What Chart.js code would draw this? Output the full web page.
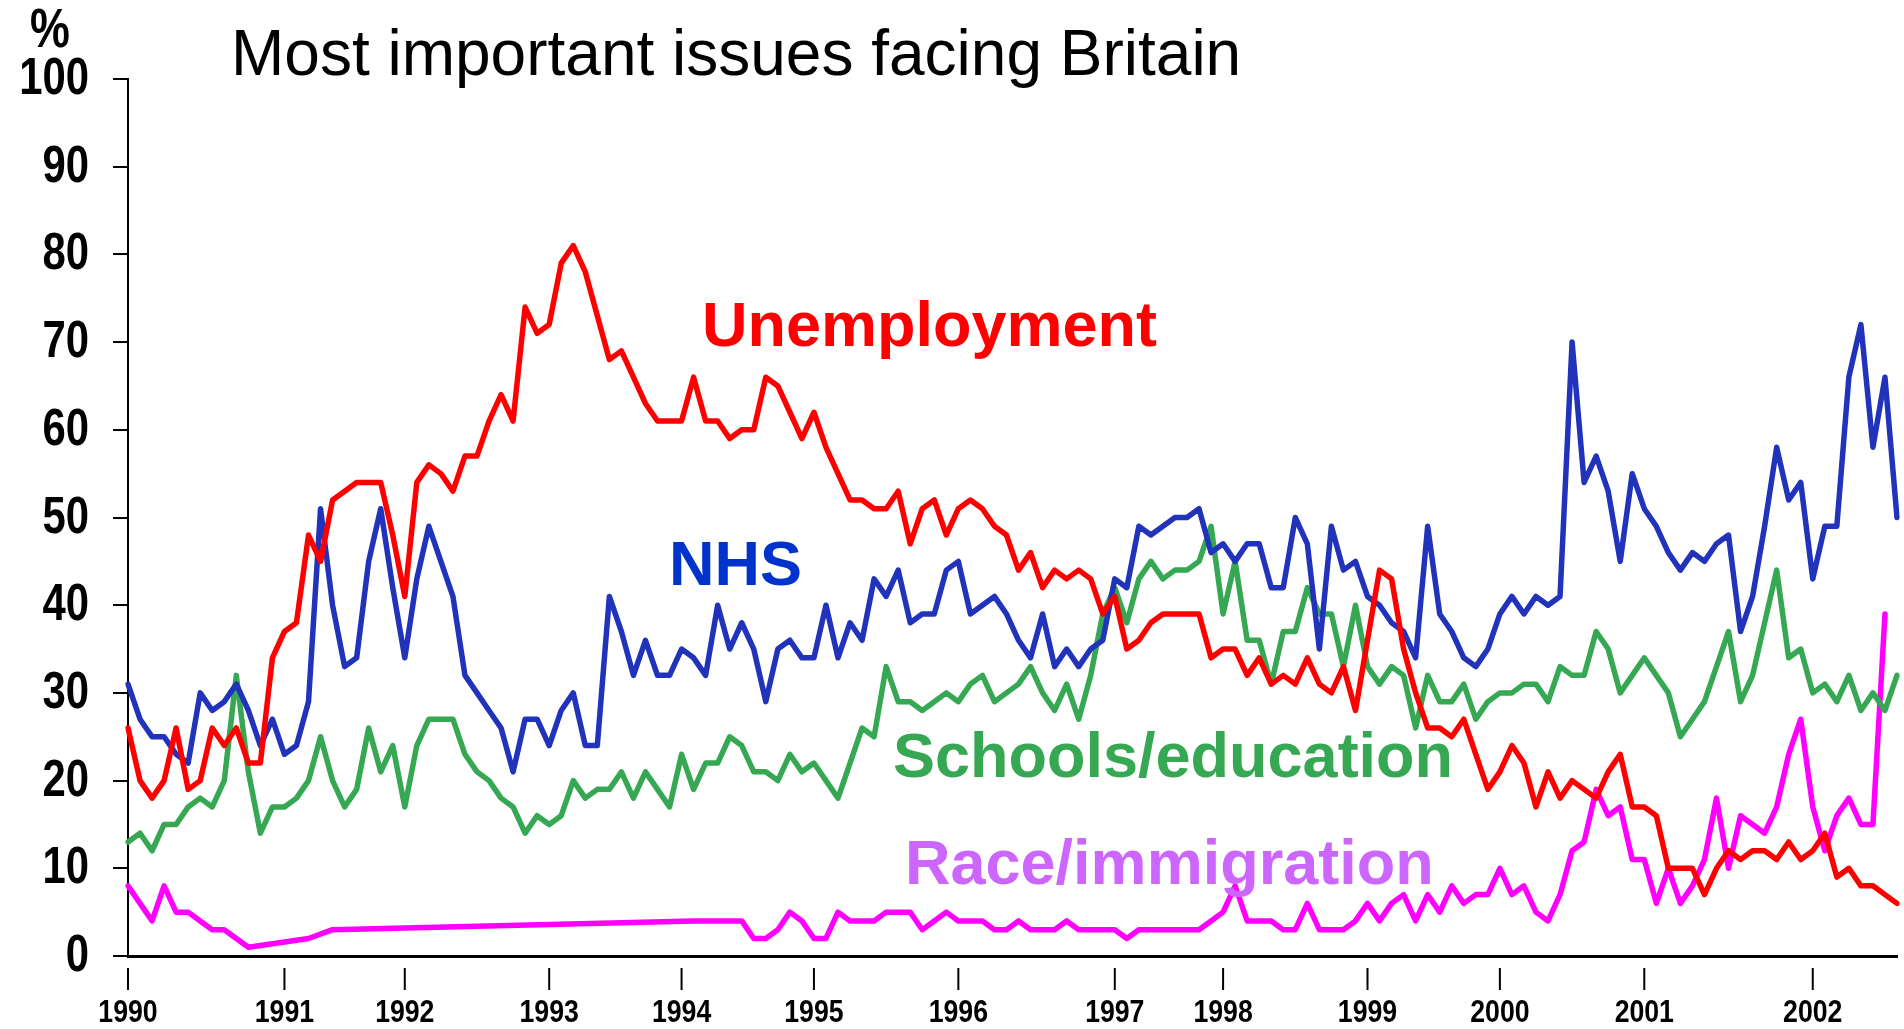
<!DOCTYPE html>
<html>
<head>
<meta charset="utf-8">
<title>Most important issues facing Britain</title>
<script src="https://cdn.jsdelivr.net/npm/chart.js@4.4.1/dist/chart.umd.min.js"></script>
<style>
  html, body { margin: 0; padding: 0; background: #fff; }
  #wrap { width: 1904px; height: 1029px; }
</style>
</head>
<body>
<div id="wrap"><canvas id="issuesChart" width="1904" height="1029"></canvas></div>
<script>
// Valores (% que cita cada tema), uma amostra por pesquisa
const unemployment = [
  26, 20, 18, 20, 26, 19, 20, 26, 24, 26, 22, 22, 34, 37, 38, 48, 45, 52, 53,
  54, 54, 54, 48, 41, 54, 56, 55, 53, 57, 57, 61, 64, 61, 74, 71, 72, 79,
  81, 78, 73, 68, 69, 66, 63, 61, 61, 61, 66, 61, 61, 59, 60, 60, 66, 65,
  62, 59, 62, 58, 55, 52, 52, 51, 51, 53, 47, 51, 52, 48, 51, 52, 51, 49, 48,
  44, 46, 42, 44, 43, 44, 43, 39, 41, 35, 36, 38, 39, 39, 39, 39, 34, 35,
  35, 32, 34, 31, 32, 31, 34, 31, 30, 33, 28, 36, 44, 43, 35, 30, 26, 26,
  25, 27, 23, 19, 21, 24, 22, 17, 21, 18, 20, 19, 18, 21, 23, 17, 17, 16,
  10, 10, 10, 7, 10, 12, 11, 12, 12, 11, 13, 11, 12, 14, 9, 10, 8, 8, 7, 6
];

const nhs = [
  31, 27, 25, 25, 23, 22, 30, 28, 29, 31, 28, 24, 27, 23, 24, 29, 51, 40, 33,
  34, 45, 51, 42, 34, 43, 49, 45, 41, 32, 30, 28, 26, 21, 27, 27, 24, 28,
  30, 24, 24, 41, 37, 32, 36, 32, 32, 35, 34, 32, 40, 35, 38, 35, 29, 35,
  36, 34, 34, 40, 34, 38, 36, 43, 41, 44, 38, 39, 39, 44, 45, 39, 40, 41, 39,
  36, 34, 39, 33, 35, 33, 35, 36, 43, 42, 49, 48, 49, 50, 50, 51, 46, 47,
  45, 47, 47, 42, 42, 50, 47, 35, 49, 44, 45, 41, 40, 38, 37, 34, 49, 39,
  37, 34, 33, 35, 39, 41, 39, 41, 40, 41, 70, 54, 57, 53, 45, 55, 51, 49,
  46, 44, 46, 45, 47, 48, 37, 41, 49, 58, 52, 54, 43, 49, 49, 66, 72, 58, 66, 50
];

const schools = [
  13, 14, 12, 15, 15, 17, 18, 17, 20, 32, 21, 14, 17, 17, 18, 20, 25, 20, 17,
  19, 26, 21, 24, 17, 24, 27, 27, 27, 23, 21, 20, 18, 17, 14, 16, 15, 16,
  20, 18, 19, 19, 21, 18, 21, 19, 17, 23, 19, 22, 22, 25, 24, 21, 21, 20,
  23, 21, 22, 20, 18, 22, 26, 25, 33, 29, 29, 28, 29, 30, 29, 31, 32, 29, 30,
  31, 33, 30, 28, 31, 27, 32, 39, 42, 38, 43, 45, 43, 44, 44, 45, 49, 39,
  45, 36, 36, 31, 37, 37, 42, 39, 39, 33, 40, 33, 31, 33, 32, 26, 32, 29,
  29, 31, 27, 29, 30, 30, 31, 31, 29, 33, 32, 32, 37, 35, 30, 32, 34, 32,
  30, 25, 27, 29, 33, 37, 29, 32, 38, 44, 34, 35, 30, 31, 29, 32, 28, 30, 28, 32
];

// null = pergunta não feita nessa pesquisa (a linha passa direto)
const race = [
  8, 6, 4, 8, 5, 5, 4, 3, 3, 2, 1, null, null, null, null, 2, null, 3, null,
  null, null, null, null, null, null, null, null, null, null, null, null, null, null, null, null, null,
  null, null, null, null, null, null, null, null, null, null, null, 4, 4, 4, 4, 4, 2, 2,
  3, 5, 4, 2, 2, 5, 4, 4, 4, 5, 5, 5, 3, 4, 5, 4, 4, 4, 3,
  3, 4, 3, 3, 3, 4, 3, 3, 3, 3, 2, 3, 3, 3, 3, 3, 3, 4,
  5, 8, 4, 4, 4, 3, 3, 6, 3, 3, 3, 4, 6, 4, 6, 7, 4, 7,
  5, 8, 6, 7, 7, 10, 7, 8, 5, 4, 7, 12, 13, 19, 16, 17, 11, 11,
  6, 10, 6, 8, 11, 18, 10, 16, 15, 14, 17, 23, 27, 17, 12, 16, 18, 15, 15, 39
];

// Rótulos dos anos e a amostra em que cada ano começa
const years = ['1990', '1991', '1992', '1993', '1994', '1995', '1996', '1997', '1998', '1999', '2000', '2001', '2002'];
const yearStart = [0, 13, 23, 35, 46, 57, 69, 82, 91, 103, 114, 126, 140];

const labels = unemployment.map(() => '');
yearStart.forEach((idx, k) => { labels[idx] = years[k]; });

const FONT = '"Liberation Sans", Arial, Helvetica, sans-serif';

// Texto comprimido na horizontal, como no original
function squeezed(ctx, text, x, y, sx) {
    ctx.save();
    ctx.translate(x, y);
    ctx.scale(sx, 1);
    ctx.fillText(text, 0, 0);
    ctx.restore();
}

const seriesNames = [
    { text: 'Unemployment', color: '#ff0000', x: 702, y: 346 },
    { text: 'NHS', color: '#0033cc', x: 669, y: 585 },
    { text: 'Schools/education', color: '#36a853', x: 893, y: 777 },
    { text: 'Race/immigration', color: '#cc66ff', x: 905, y: 884 }
];

const chartText = {
    id: 'chartText',
    afterDraw(chart) {
        const ctx = chart.ctx;
        const x = chart.scales.x;
        const y = chart.scales.y;
        ctx.save();
        ctx.fillStyle = '#000';

        // título
        ctx.font = `64px ${FONT}`;
        ctx.textAlign = 'left';
        ctx.textBaseline = 'alphabetic';
        ctx.fillText('Most important issues facing Britain', 231, 75);

        // eixo y
        ctx.font = `bold 51px ${FONT}`;
        ctx.textAlign = 'right';
        ctx.textBaseline = 'middle';
        y.ticks.forEach(t => {
            squeezed(ctx, String(t.value), 89, y.getPixelForValue(t.value) + 1, 0.82);
        });
        ctx.textAlign = 'center';
        ctx.font = `bold 56px ${FONT}`;
        squeezed(ctx, '%', 50, 32, 0.8);

        // anos no eixo x
        ctx.strokeStyle = '#000';
        ctx.lineWidth = 2;
        ctx.font = `bold 31px ${FONT}`;
        yearStart.forEach((idx, k) => {
            const px = x.getPixelForValue(idx);
            ctx.beginPath();
            ctx.moveTo(px, 968);
            ctx.lineTo(px, 990);
            ctx.stroke();
            squeezed(ctx, years[k], px, 1013, 0.86);
        });

        // nomes das séries
        ctx.font = `bold 63px ${FONT}`;
        ctx.textAlign = 'left';
        ctx.textBaseline = 'alphabetic';
        seriesNames.forEach(s => {
            ctx.fillStyle = s.color;
            ctx.fillText(s.text, s.x, s.y);
        });
        ctx.restore();
    }
};

function lineSet(label, data, color) {
    return {
        label,
        data,
        borderColor: color,
        backgroundColor: color,
        borderWidth: 5.5,
        pointRadius: 0,
        tension: 0,
        spanGaps: true,
        borderJoinStyle: 'round',
        borderCapStyle: 'round'
    };
}

new Chart(document.getElementById('issuesChart'), {
    type: 'line',
    data: {
        labels,
        datasets: [
            lineSet('Unemployment', unemployment, '#ff0000'),
            lineSet('NHS', nhs, '#2233bb'),
            lineSet('Schools/education', schools, '#36a853'),
            lineSet('Race/immigration', race, '#ff00ff')
        ]
    },
    options: {
        responsive: false,
        animation: false,
        events: [],
        layout: { padding: { top: 79, right: 7, bottom: 0, left: 0 } },
        plugins: {
            legend: { display: false },
            tooltip: { enabled: false },
            title: { display: false }
        },
        scales: {
            x: {
                type: 'category',
                offset: false,
                grid: { display: false },
                ticks: { display: false },
                border: { display: true, color: '#000', width: 3 },
                afterFit: s => { s.height = 73; }
            },
            y: {
                min: 0,
                max: 100,
                ticks: { display: false, stepSize: 10 },
                grid: { drawOnChartArea: false, drawTicks: true, tickLength: 15, color: '#000', lineWidth: 2 },
                border: { display: true, color: '#000', width: 2 },
                afterFit: s => { s.width = 128; }
            }
        }
    },
    plugins: [chartText]
});
</script>
</body>
</html>
